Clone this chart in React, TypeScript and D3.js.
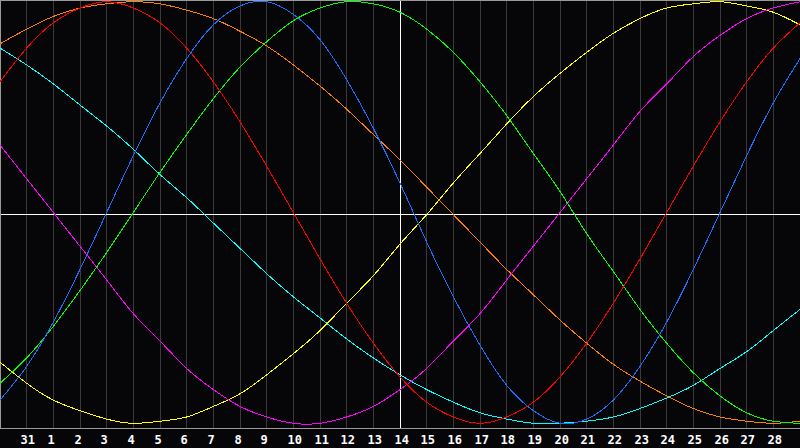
import React from "react";
import * as d3 from "d3";

// Day labels under the gridlines (gridline index 1..29)
const dayLabels = ["31", "1", "2", "3", "4", "5", "6", "7", "8", "9", "10", "11", "12", "13", "14", "15", "16", "17", "18", "19", "20", "21", "22", "23", "24", "25", "26", "27", "28"];

// Cycle values (-100..100) read at each day column 0..30
const blueValues = [-89, -73, -52, -27, 0, 27, 52, 73, 89, 98, 100, 94, 82, 63, 40, 14, -14, -40, -63, -82, -94, -100, -98, -89, -73, -52, -27, 0, 27, 52, 73];
const redValues = [62, 78, 90, 97, 100, 97, 90, 78, 62, 43, 22, 0, -22, -43, -62, -78, -90, -97, -100, -97, -90, -78, -62, -43, -22, 0, 22, 43, 62, 78, 90];
const greenValues = [-81, -69, -54, -37, -19, 0, 19, 37, 54, 69, 81, 91, 97, 100, 99, 95, 87, 76, 62, 46, 28, 10, -10, -28, -46, -62, -76, -87, -95, -99, -100];
const magentaValues = [32, 16, 0, -16, -32, -48, -61, -74, -84, -92, -97, -100, -100, -97, -92, -84, -74, -61, -48, -32, -16, 0, 16, 32, 48, 61, 74, 84, 92, 97, 100];
const yellowValues = [-71, -81, -89, -94, -98, -100, -99, -97, -92, -86, -77, -67, -56, -43, -30, -15, -1, 14, 28, 42, 55, 66, 76, 85, 92, 97, 99, 100, 98, 95, 89];
const orangeValues = [80, 87, 93, 97, 99, 100, 99, 96, 92, 86, 79, 70, 60, 49, 37, 25, 12, -1, -14, -27, -39, -51, -62, -72, -80, -87, -93, -97, -99, -100, -99];
const cyanValues = [78, 70, 61, 51, 41, 30, 18, 7, -5, -17, -29, -40, -50, -60, -69, -77, -84, -90, -95, -98, -100, -100, -99, -97, -93, -88, -82, -74, -66, -56, -46];

const seriesList = [
  { name: "cyan", values: cyanValues, color: "#00ffff" },
  { name: "orange", values: orangeValues, color: "#ff8000" },
  { name: "yellow", values: yellowValues, color: "#ffff00" },
  { name: "magenta", values: magentaValues, color: "#ff00ff" },
  { name: "green", values: greenValues, color: "#00ff00" },
  { name: "red", values: redValues, color: "#ff0000" },
  { name: "blue", values: blueValues, color: "#1f6fff" },
];

const W = 800;
const H = 448;
const plotBottom = 428;
const todayIndex = 15;

export default function App() {
  const x = d3.scaleLinear().domain([0, 30]).range([0, W]);
  const y = d3.scaleLinear().domain([-100, 100]).range([423.3, 1.7]);
  const line = d3
    .line<number>()
    .x((_, i) => x(i))
    .y((v) => y(v))
    .curve(d3.curveNatural);

  const gridIdx = d3.range(1, 30);
  const px = (v: number) => Math.floor(v) + 0.5;

  return (
    <svg
      width={W}
      height={H}
      style={{ position: "absolute", left: 0, top: 0, display: "block" }}
    >
      <rect x={0} y={0} width={W} height={H} fill="#060608" />
      {gridIdx.map((k) => (
        <line
          key={"g" + k}
          x1={px(x(k))}
          x2={px(x(k))}
          y1={0}
          y2={plotBottom}
          stroke={k === todayIndex ? "#ffffff" : "#3a3a3a"}
          strokeWidth={1}
          shapeRendering="crispEdges"
        />
      ))}
      <line x1={0} x2={W} y1={214.5} y2={214.5} stroke="#ffffff" strokeWidth={1} shapeRendering="crispEdges" />
      <line x1={0} x2={W} y1={0.5} y2={0.5} stroke="#9a9a9a" strokeWidth={1} shapeRendering="crispEdges" />
      <line x1={0.5} x2={0.5} y1={0} y2={plotBottom} stroke="#9a9a9a" strokeWidth={1} shapeRendering="crispEdges" />
      <line x1={0} x2={W} y1={plotBottom + 0.5} y2={plotBottom + 0.5} stroke="#9a9a9a" strokeWidth={1} shapeRendering="crispEdges" />
      {seriesList.map((s) => (
        <path
          key={s.name}
          d={line(s.values) || ""}
          fill="none"
          stroke={s.color}
          strokeWidth={1}
          shapeRendering="crispEdges"
        />
      ))}
      {dayLabels.map((lab, i) => (
        <text
          key={"l" + i}
          x={Math.floor(x(i + 1)) - 5.5}
          y={443.5}
          fill="#ffffff"
          fontFamily="'DejaVu Sans Mono', monospace"
          fontWeight="bold"
          fontSize={12}
        >
          {lab}
        </text>
      ))}
    </svg>
  );
}
